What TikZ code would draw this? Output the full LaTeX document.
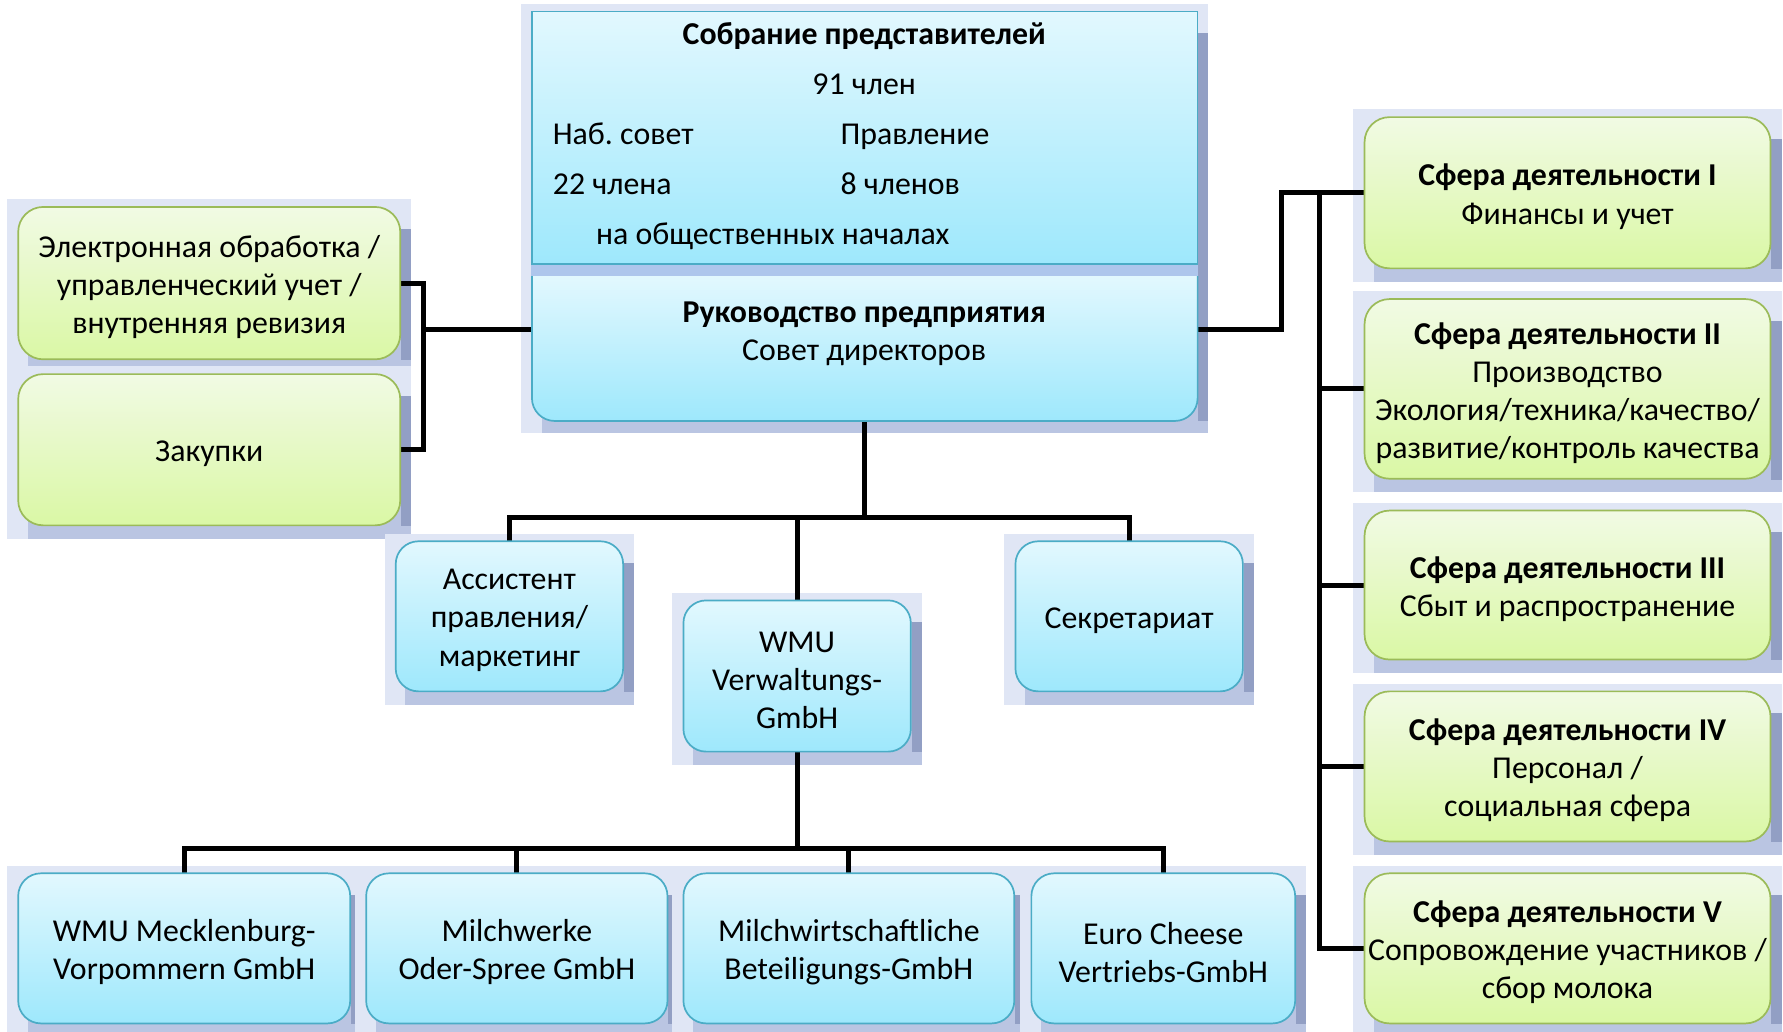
\documentclass[tikz,border=0pt]{standalone}
\usepackage{fontspec}
\setmainfont{Carlito}
\usetikzlibrary{calc,backgrounds}
\definecolor{gtop}{RGB}{241,250,228}
\definecolor{gbot}{RGB}{218,248,165}
\definecolor{gbd}{RGB}{155,187,89}
\definecolor{btop}{RGB}{226,248,254}
\definecolor{bbot}{RGB}{158,232,252}
\definecolor{bbd}{RGB}{75,172,198}
\definecolor{shA}{RGB}{224,230,245}
\definecolor{shB}{RGB}{186,197,226}
\definecolor{shC}{RGB}{146,159,196}
\definecolor{bandc}{RGB}{174,198,236}
\newcommand\fs{\fontsize{28}{33.5}\selectfont}
\newcommand\boxshadow[2]{%
  \fill[shA] ($(#1)+(-9,-6)$) rectangle ($(#2)+(9,11)$);
  \fill[shB] ($(#1)+(9,20)$) rectangle ($(#2)+(9,11)$);
  \fill[shC] ($(#1 -| #2)+(0,20)$) rectangle ($(#2)+(9,0)$);
}
\newcommand\boxtext[2]{\node[boxtxt] (#1t) at ($(#1.center)+(0,3.5)$) {#2};}
\tikzset{
  boxbase/.style={line width=1.5pt, inner sep=0pt},
  gbox/.style={boxbase, draw=gbd, rounded corners=22pt, top color=gtop, bottom color=gbot},
  bbox/.style={boxbase, draw=bbd, rounded corners=20pt, top color=btop, bottom color=bbot},
  boxtxt/.style={align=center, inner sep=0pt},
  txt/.style={inner sep=0pt},
  conn/.style={line width=4.4pt, line cap=rect, line join=miter, black}
}
\begin{document}
\begin{tikzpicture}[x=1pt,y=-1pt,font=\fs]
\useasboundingbox (0,0) rectangle (1568,907);

% top block
\node[draw=bbd, line width=1.5pt, top color=btop, bottom color=bbot, minimum width=585pt, minimum height=222pt, inner sep=0pt] (asm) at (760.5,121) {};
\node[minimum width=585pt, minimum height=127pt, inner sep=0pt] (mgmt) at (760.5,306.5) {};
\shade[top color=btop, bottom color=bbot] (mgmt.north west) -- (mgmt.north east) -- (mgmt.east) [rounded corners=20pt] -- (mgmt.south east) -- (mgmt.south west) -- (mgmt.west) [sharp corners] -- cycle;
\draw[bbd, line width=1.5pt] (mgmt.north east) -- (mgmt.east) [rounded corners=20pt] -- (mgmt.south east) -- (mgmt.south west) -- (mgmt.west) [sharp corners] -- (mgmt.north west);

\node[txt, anchor=mid] (a1) at (760,37) {\textbf{Собрание представителей}};
\node[txt, anchor=mid] (a2) at (760,81) {91 член};
\node[txt, anchor=mid west] (a3) at (486,125) {Наб.\ совет};
\node[txt, anchor=mid west] (a4) at (739,125) {Правление};
\node[txt, anchor=mid west] (a5) at (486,169) {22 члена};
\node[txt, anchor=mid west] (a6) at (739,169) {8 членов};
\node[txt, anchor=mid west] (a7) at (524,213) {на общественных началах};
\node[txt, anchor=mid] (m1) at (760,281) {\textbf{Руководство предприятия}};
\node[txt, anchor=mid] (m2) at (760,315) {Совет директоров};

% left green
\node[gbox, minimum width=336pt, minimum height=134pt] (G1) at (184,249) {};
\boxtext{G1}{Электронная обработка /\\управленческий учет /\\внутренняя ревизия}
\node[gbox, minimum width=336pt, minimum height=133pt] (G2) at (184,395.5) {};
\boxtext{G2}{Закупки}

% right green
\node[gbox, minimum width=357pt, minimum height=133pt] (R1) at (1378.5,169.5) {};
\boxtext{R1}{\textbf{Сфера деятельности I}\\Финансы и учет}
\node[gbox, minimum width=357pt, minimum height=158pt] (R2) at (1378.5,342) {};
\boxtext{R2}{\textbf{Сфера деятельности II}\\Производство\\Экология/техника/качество/\\развитие/контроль качества}
\node[gbox, minimum width=357pt, minimum height=131pt] (R3) at (1378.5,514.5) {};
\boxtext{R3}{\textbf{Сфера деятельности III}\\Сбыт и распространение}
\node[gbox, minimum width=357pt, minimum height=132pt] (R4) at (1378.5,674) {};
\boxtext{R4}{\textbf{Сфера деятельности IV}\\Персонал /\\социальная сфера}
\node[gbox, minimum width=357pt, minimum height=132pt] (R5) at (1378.5,834) {};
\boxtext{R5}{\textbf{Сфера деятельности V}\\Сопровождение участников /\\сбор молока}

% middle blue
\node[bbox, minimum width=200pt, minimum height=132pt] (B1) at (448,542) {};
\boxtext{B1}{Ассистент\\правления/\\маркетинг}
\node[bbox, minimum width=200pt, minimum height=133pt] (B2) at (701,594.5) {};
\boxtext{B2}{WMU\\Verwaltungs-\\GmbH}
\node[bbox, minimum width=200pt, minimum height=132pt] (B3) at (993,542) {};
\boxtext{B3}{Секретариат}

% bottom blue
\node[bbox, minimum width=292pt, minimum height=132pt] (C1) at (162,834) {};
\boxtext{C1}{WMU Mecklenburg-\\Vorpommern GmbH}
\node[bbox, minimum width=265pt, minimum height=132pt] (C2) at (454.5,834) {};
\boxtext{C2}{Milchwerke\\Oder-Spree GmbH}
\node[bbox, minimum width=291pt, minimum height=132pt] (C3) at (746.5,834) {};
\boxtext{C3}{Milchwirtschaftliche\\Beteiligungs-GmbH}
\node[bbox, minimum width=232pt, minimum height=132pt] (C4) at (1023,834) {};
\boxtext{C4}{Euro Cheese\\Vertriebs-GmbH}

\coordinate (lj) at (372,290);
\coordinate (rj) at (1127,290);
\coordinate (bus) at (1160,0);
\coordinate (mj) at (761,455);
\coordinate (bj) at (701,746);

\begin{pgfonlayer}{background}
  \boxshadow{asm.north west}{mgmt.south east}
  \fill[bandc] (asm.south west) rectangle ($(mgmt.north east)$);
  \foreach \n in {G1,G2,R1,R2,R3,R4,R5,B1,B2,B3,C1,C2,C3,C4}{
    \boxshadow{\n.north west}{\n.south east}
  }
  % connectors
  \draw[conn] (G1.east) -| (lj) |- (G2.east);
  \draw[conn] (lj) -- (lj -| asm.west);
  \draw[conn] (rj -| mgmt.east) -- (rj) |- (R1.west);
  \draw[conn] (bus |- R1.west) -- (bus |- R5.west) -- (R5.west);
  \foreach \n in {R2,R3,R4}{ \draw[conn] (bus |- \n.west) -- (\n.west); }
  \draw[conn] (mgmt.south) -- (mgmt.south |- mj);
  \draw[conn] (B1.north) |- (mj) -| (B3.north);
  \draw[conn] (B2.north) -- (B2.north |- mj);
  \draw[conn] (B2.south) -- (bj);
  \draw[conn] (C1.north) |- (bj) -| (C4.north);
  \draw[conn] (C2.north) -- (C2.north |- bj);
  \draw[conn] (C3.north) -- (C3.north |- bj);
\end{pgfonlayer}
\end{tikzpicture}
\end{document}
